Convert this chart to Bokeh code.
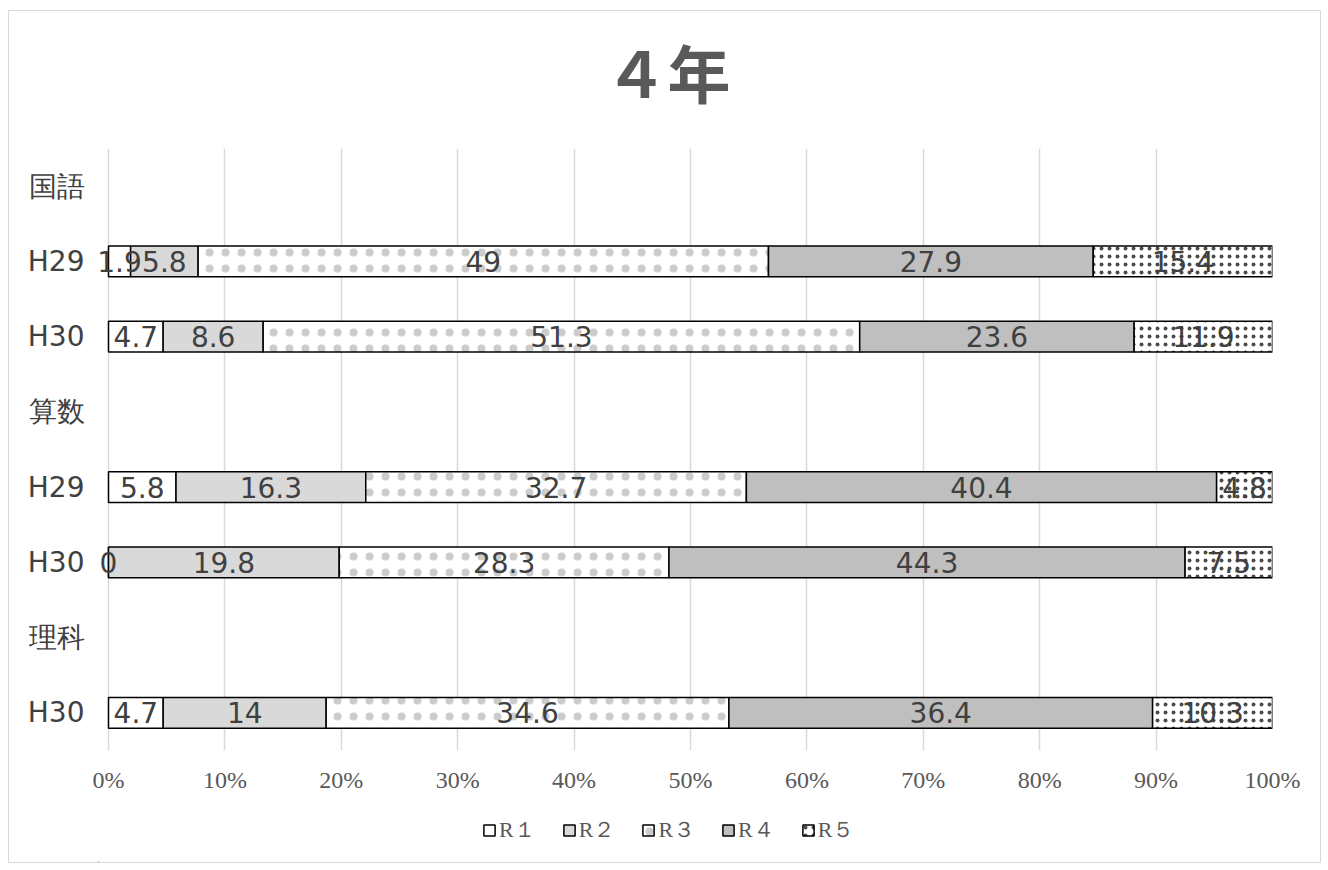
from bokeh.plotting import figure
from bokeh.layouts import column
from bokeh.models import (ColumnDataSource, Legend, LegendItem, FixedTicker,
                          PrintfTickFormatter, LabelSet, Label)
from bokeh.core.properties import value
from bokeh.embed import file_html
from bokeh.resources import INLINE

chart_title = "４年"
rows = ["国語", "H29", "H30", "算数", "H29", "H30", "理科", "H30"]
series = ["R１", "R２", "R３", "R４", "R５"]
r1 = [None, 1.9, 4.7, None, 5.8, 0, None, 4.7]
r2 = [None, 5.8, 8.6, None, 16.3, 19.8, None, 14]
r3 = [None, 49, 51.3, None, 32.7, 28.3, None, 34.6]
r4 = [None, 27.9, 23.6, None, 40.4, 44.3, None, 36.4]
r5 = [None, 15.4, 11.9, None, 4.8, 7.5, None, 10.3]
x_ticks = [0, 10, 20, 30, 40, 50, 60, 70, 80, 90, 100]

values = [r1, r2, r3, r4, r5]
fills = ["#ffffff", "#d9d9d9", "#ffffff", "#bfbfbf", "#ffffff"]
hatches = [None, None, "dot", None, "dot"]
hatch_scales = [None, None, 16, None, 8]
hatch_alphas = [None, None, 0.2, None, 0.7]

LABEL_FONT = "DejaVu Sans"
SERIF = "Liberation Serif"
W = 1311

def strip(height):
    f = figure(width=W, height=height, output_backend="svg", toolbar_location=None,
               x_range=(0, 1), y_range=(0, 1), x_axis_type=None, y_axis_type=None,
               min_border_left=0, min_border_right=0, min_border_top=0,
               min_border_bottom=0)
    f.outline_line_color = None
    f.grid.visible = False
    return f

# title strip
p0 = strip(137)
p0.add_layout(Label(x=569, y=78, x_units="screen", y_units="screen", text=chart_title,
                    text_align="center", text_baseline="middle",
                    text_font="Noto Sans CJK JP", text_font_style="bold",
                    text_font_size="63px", text_color="#595959"))

p = figure(width=W, height=657, output_backend="svg", toolbar_location=None,
           x_range=(-0.86, 100), y_range=(len(rows) - 0.5, -0.5),
           min_border_left=89, min_border_right=48, min_border_top=0,
           min_border_bottom=55)
p.outline_line_color = None
p.title.text = ""

# totals for 100% stacking
totals = []
for i in range(len(rows)):
    vals = [s[i] for s in values]
    totals.append(sum(v for v in vals if v is not None) if vals[0] is not None else None)

def fmt(v):
    return str(int(v)) if float(v).is_integer() else str(v)

def style(k):
    kw = dict(fill_color=fills[k], line_color="black", line_width=1.5)
    if hatches[k]:
        kw.update(hatch_pattern=hatches[k], hatch_color="black",
                  hatch_scale=hatch_scales[k], hatch_alpha=hatch_alphas[k],
                  hatch_weight=0.1)
    return kw

label_data = dict(x=[], y=[], t=[])
cum = [0.0] * len(rows)
for k, s in enumerate(values):
    ys, lefts, rights = [], [], []
    for i, v in enumerate(s):
        if v is None:
            continue
        left = cum[i] / totals[i] * 100
        right = (cum[i] + v) / totals[i] * 100
        cum[i] += v
        ys.append(i); lefts.append(left); rights.append(right)
        label_data["x"].append((left + right) / 2)
        label_data["y"].append(i)
        label_data["t"].append(fmt(v))
    src = ColumnDataSource(dict(y=ys, left=lefts, right=rights))
    p.hbar(y="y", left="left", right="right", height=0.41, source=src, **style(k))

labels = LabelSet(x="x", y="y", text="t", source=ColumnDataSource(label_data),
                  text_align="center", text_baseline="middle",
                  text_font=value(LABEL_FONT), text_font_size="28px",
                  text_color="#404040")
p.add_layout(labels)

# axes
p.xaxis.ticker = FixedTicker(ticks=x_ticks)
p.xaxis.formatter = PrintfTickFormatter(format="%d%%")
p.xaxis.axis_line_color = None
p.xaxis.major_tick_line_color = None
p.xaxis.minor_tick_line_color = None
p.xaxis.major_label_text_font = SERIF
p.xaxis.major_label_text_font_size = "24px"
p.xaxis.major_label_text_color = "#595959"
p.xaxis.major_label_standoff = 10

p.yaxis.ticker = FixedTicker(ticks=list(range(len(rows))))
p.yaxis.major_label_overrides = {i: t for i, t in enumerate(rows)}
p.yaxis.axis_line_color = None
p.yaxis.major_tick_line_color = None
p.yaxis.minor_tick_line_color = None
p.yaxis.major_label_text_font = LABEL_FONT
p.yaxis.major_label_text_font_size = "28px"
p.yaxis.major_label_text_color = "#404040"
p.yaxis.major_label_standoff = 8

p.xgrid.ticker = FixedTicker(ticks=x_ticks)
p.xgrid.grid_line_color = "#d9d9d9"
p.xgrid.grid_line_width = 1.5
p.ygrid.grid_line_color = None

# legend strip (its sample bars lie outside the visible ranges)
p2 = strip(57)
items = []
for k in range(len(series)):
    r = p2.hbar(y=[-5], left=[-6], right=[-5], height=0.4, **style(k))
    items.append(LegendItem(label=series[k], renderers=[r], index=0))
legend = Legend(items=items, orientation="horizontal", location=(384, 17),
                border_line_color=None, background_fill_alpha=0,
                label_text_font=SERIF, label_text_font_size="22px",
                label_text_color="#595959", glyph_width=14, glyph_height=14,
                label_standoff=3, spacing=26, padding=0, margin=0)
p2.add_layout(legend, "center")

layout = column(p0, p, p2, spacing=0)
layout.styles = {"margin": "10px 0px 0px 8px", "border": "1px solid #d9d9d9"}

open("out.html", "w").write(file_html(layout, INLINE))
